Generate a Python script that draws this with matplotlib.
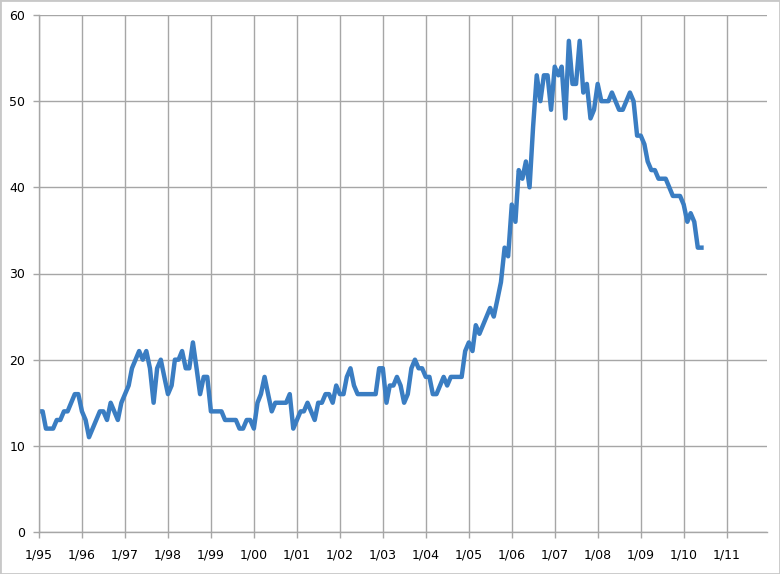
import pandas as pd
import matplotlib.pyplot as plt
import matplotlib.dates as mdates
from matplotlib.patches import Rectangle

# monthly values, Jan 1995 - Jun 2010
y1995 = [14, 14, 12, 12, 12, 13, 13, 14, 14, 15, 16, 16]
y1996 = [14, 13, 11, 12, 13, 14, 14, 13, 15, 14, 13, 15]
y1997 = [16, 17, 19, 20, 21, 20, 21, 19, 15, 19, 20, 18]
y1998 = [16, 17, 20, 20, 21, 19, 19, 22, 19, 16, 18, 18]
y1999 = [14, 14, 14, 14, 13, 13, 13, 13, 12, 12, 13, 13]
y2000 = [12, 15, 16, 18, 16, 14, 15, 15, 15, 15, 16, 12]
y2001 = [13, 14, 14, 15, 14, 13, 15, 15, 16, 16, 15, 17]
y2002 = [16, 16, 18, 19, 17, 16, 16, 16, 16, 16, 16, 19]
y2003 = [19, 15, 17, 17, 18, 17, 15, 16, 19, 20, 19, 19]
y2004 = [18, 18, 16, 16, 17, 18, 17, 18, 18, 18, 18, 21]
y2005 = [22, 21, 24, 23, 24, 25, 26, 25, 27, 29, 33, 32]
y2006 = [38, 36, 42, 41, 43, 40, 47, 53, 50, 53, 53, 49]
y2007 = [54, 53, 54, 48, 57, 52, 52, 57, 51, 52, 48, 49]
y2008 = [52, 50, 50, 50, 51, 50, 49, 49, 50, 51, 50, 46]
y2009 = [46, 45, 43, 42, 42, 41, 41, 41, 40, 39, 39, 39]
y2010 = [38, 36, 37, 36, 33, 33]

values = (y1995 + y1996 + y1997 + y1998 + y1999 + y2000 + y2001 + y2002 +
          y2003 + y2004 + y2005 + y2006 + y2007 + y2008 + y2009 + y2010)
dates = pd.date_range('1995-01-01', periods=len(values), freq='MS')

tick_years = list(range(1995, 2012))
tick_labels = ['1/%02d' % (y % 100) for y in tick_years]

grid_col = '#a6a6a6'

fig = plt.figure(figsize=(7.8, 5.74), dpi=100)
ax = fig.add_axes([39 / 780, 1 - 532 / 574, (767 - 39) / 780, (532 - 15) / 574])

ax.plot(dates, values, color='#3a7dc2', linewidth=3.2, solid_joinstyle='round')

ax.set_ylim(0, 60)
ax.set_yticks(range(0, 61, 10))
ax.set_xlim(pd.Timestamp('1995-01-01'), pd.Timestamp('2011-12-10'))
ax.set_xticks([pd.Timestamp('%d-01-01' % y) for y in tick_years])
ax.set_xticklabels(tick_labels)

ax.grid(True, color=grid_col, linewidth=1.0)
ax.set_axisbelow(True)
for side in ['top', 'right']:
    ax.spines[side].set_visible(False)
for side in ['left', 'bottom']:
    ax.spines[side].set_color(grid_col)
    ax.spines[side].set_linewidth(1.0)
ax.tick_params(axis='both', colors=grid_col, length=4, width=1.0,
               labelcolor='black', labelsize=9)
ax.tick_params(axis='x', pad=8)
ax.tick_params(axis='y', pad=6)

# light frame around the whole picture
fig.patches.append(Rectangle((0, 0), 1, 1, transform=fig.transFigure,
                             fill=False, edgecolor='#c8c8c8', linewidth=2))

plt.savefig('out.png', dpi=100)
